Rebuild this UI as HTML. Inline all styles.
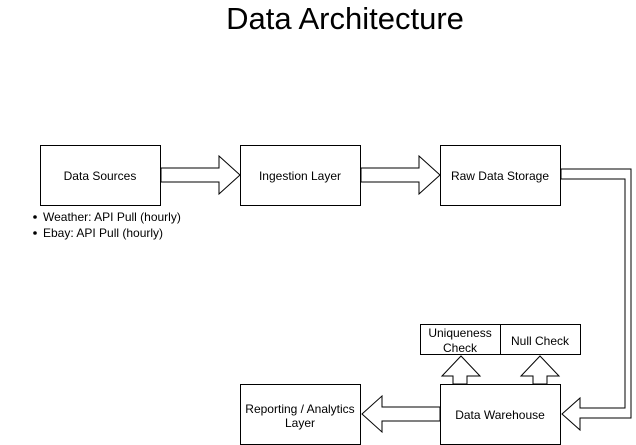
<!DOCTYPE html>
<html><head><meta charset="utf-8"><style>
html,body{margin:0;padding:0;background:#fff;}
svg{display:block;}
text{font-family:"Liberation Sans",Arial,sans-serif;fill:#000;}
</style></head><body>
<svg width="636" height="445" viewBox="0 0 636 445" xmlns="http://www.w3.org/2000/svg">
<text x="345" y="29" font-size="31" text-anchor="middle">Data Architecture</text>
<g fill="#fff" stroke="#000" stroke-width="1">
<rect x="40.5" y="145.5" width="120" height="60"/>
<rect x="240.5" y="145.5" width="120" height="60"/>
<rect x="440.5" y="145.5" width="120" height="60"/>
<rect x="240.5" y="384.5" width="120" height="60"/>
<rect x="440.5" y="384.5" width="120" height="60"/>
<rect x="420.5" y="324.5" width="80" height="30"/>
<rect x="500.5" y="324.5" width="80" height="30"/>
<polygon points="161,168 219,168 219,156 240,175 219,194 219,182 161,182"/>
<polygon points="361,168 419,168 419,156 440,175 419,194 419,182 361,182"/>
<polygon points="561,169 631,169 631,418 580,418 580,430 562,414 580,398 580,408 625,408 625,179 561,179"/>
<polygon points="440,407 382,407 382,396 362,414 382,432 382,421 440,421"/>
<polygon points="453,384 453,376 442,376 461,356 480,376 467,376 467,384"/>
<polygon points="533,384 533,376 521,376 540,356 559,376 547,376 547,384"/>
</g>
<g font-size="12" text-anchor="middle">
<text x="100" y="180">Data Sources</text>
<text x="300" y="180">Ingestion Layer</text>
<text x="500" y="180">Raw Data Storage</text>
<text x="500" y="419">Data Warehouse</text>
<text x="300" y="413">Reporting / Analytics</text>
<text x="300" y="427">Layer</text>
<text x="460" y="337">Uniqueness</text>
<text x="460" y="352">Check</text>
<text x="540" y="345">Null Check</text>
</g>
<g font-size="12">
<circle cx="35" cy="217" r="1.8" fill="#000"/>
<text x="43" y="221">Weather: API Pull (hourly)</text>
<circle cx="35" cy="233" r="1.8" fill="#000"/>
<text x="43" y="237">Ebay: API Pull (hourly)</text>
</g>
</svg>
</body></html>
